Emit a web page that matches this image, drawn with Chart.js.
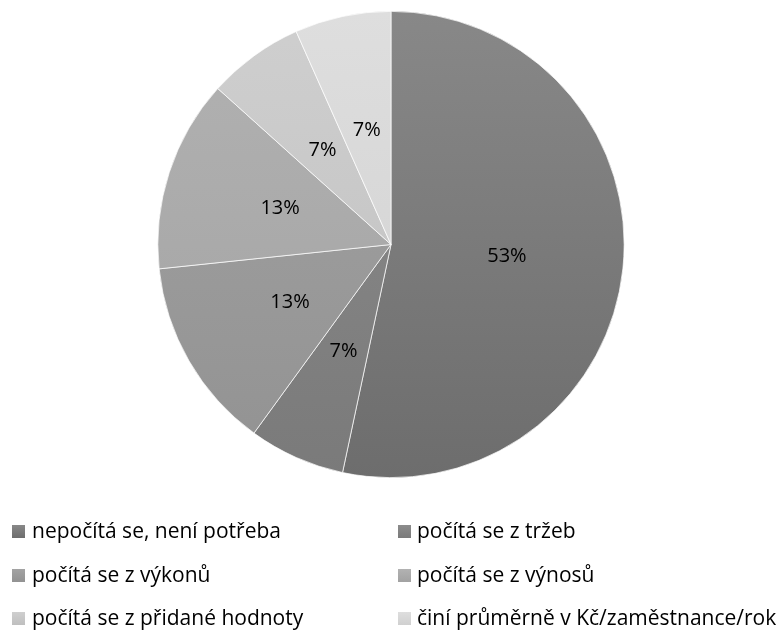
<!DOCTYPE html>
<html>
<head>
<meta charset="utf-8">
<script src="https://cdn.jsdelivr.net/npm/chart.js@4"></script>
<style>
  body { margin: 0; background: #fff; font-family: "Open Sans", sans-serif; }
  #wrap { position: relative; width: 782px; height: 632px; }
  #chartBox { position: absolute; left: 0; top: 0; width: 782px; height: 490px; }
  #legend { position: absolute; left: 0; top: 0; width: 782px; height: 632px; }
  .item { position: absolute; font-size: 21px; color: #000; white-space: nowrap; line-height: 20px; }
  .box { position: absolute; width: 13px; height: 13px; }
</style>
</head>
<body>
<div id="wrap">
  <div id="chartBox"><canvas id="pie"></canvas></div>
  <div id="legend"></div>
</div>
<script>
var labels = [
    "nepočítá se, není potřeba",
    "počítá se z tržeb",
    "počítá se z výkonů",
    "počítá se z výnosů",
    "počítá se z přidané hodnoty",
    "činí průměrně v Kč/zaměstnance/rok"
];
// number of answers per option (15 in total)
var counts = [8, 1, 2, 2, 1, 1];
var percentLabels = ["53%", "7%", "13%", "13%", "7%", "7%"];
var topColors = ["#888888", "#8c8c8c", "#a3a3a3", "#b2b2b2", "#cfcfcf", "#dedede"];
var bottomColors = ["#6d6d6d", "#7a7a7a", "#929292", "#a2a2a2", "#bfbfbf", "#d0d0d0"];

function sliceGradient(context) {
    var chart = context.chart;
    var area = chart.chartArea;
    if (!area) return topColors[context.dataIndex];
    var g = chart.ctx.createLinearGradient(0, area.top, 0, area.bottom);
    g.addColorStop(0, topColors[context.dataIndex]);
    g.addColorStop(1, bottomColors[context.dataIndex]);
    return g;
}

// draws the percentages inside the slices
const percentPlugin = {
    id: "percentPlugin",
    afterDatasetsDraw(chart) {
        var ctx = chart.ctx;
        var meta = chart.getDatasetMeta(0);
        ctx.save();
        ctx.font = "20px 'Open Sans', sans-serif";
        ctx.fillStyle = "#000";
        ctx.textAlign = "center";
        ctx.textBaseline = "middle";
        meta.data.forEach((arc, i) => {
            var mid = (arc.startAngle + arc.endAngle) / 2;
            var r = arc.outerRadius * 0.5;
            ctx.fillText(percentLabels[i], arc.x + Math.cos(mid) * r, arc.y + Math.sin(mid) * r);
        });
        ctx.restore();
    }
};

new Chart(document.getElementById("pie"), {
    type: "pie",
    data: {
        labels: labels,
        datasets: [{
            data: counts,
            backgroundColor: sliceGradient,
            borderColor: "#ffffff",
            borderWidth: 0.7
        }]
    },
    options: {
        responsive: true,
        maintainAspectRatio: false,
        animation: false,
        layout: { padding: { top: 11, bottom: 12 } },
        plugins: {
            legend: { display: false },
            tooltip: { enabled: false }
        }
    },
    plugins: [percentPlugin]
});

// legend in two columns like the original
var legendDiv = document.getElementById("legend");
var boxX = [12, 398];
var textX = [32, 417];
var rowY = [520, 564, 607];
labels.forEach((label, i) => {
    var col = i % 2;
    var row = Math.floor(i / 2);
    var box = document.createElement("div");
    box.className = "box";
    box.style.left = boxX[col] + "px";
    box.style.top = (rowY[row] + 5) + "px";
    box.style.background = "linear-gradient(" + topColors[i] + ", " + bottomColors[i] + ")";
    legendDiv.appendChild(box);
    var el = document.createElement("div");
    el.className = "item";
    el.style.left = textX[col] + "px";
    el.style.top = rowY[row] + "px";
    el.textContent = label;
    legendDiv.appendChild(el);
});
</script>
</body>
</html>
